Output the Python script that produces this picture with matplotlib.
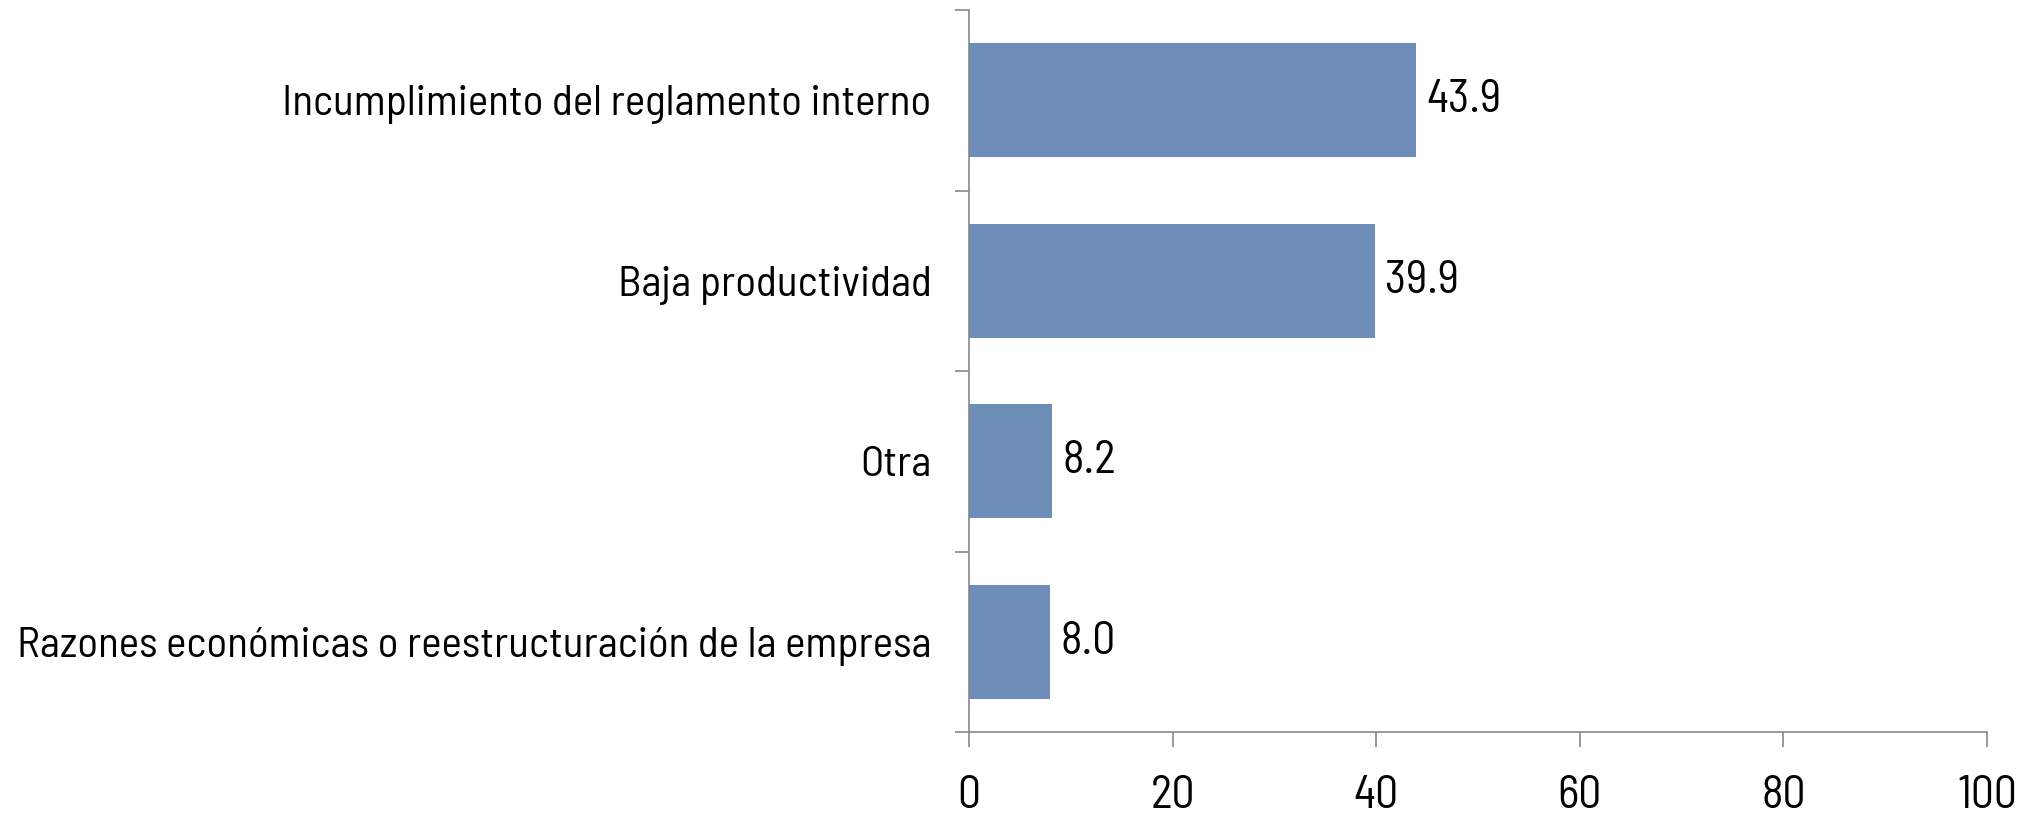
import matplotlib
matplotlib.use("Agg")
import matplotlib.pyplot as plt
from matplotlib.ticker import FixedLocator, NullFormatter
from matplotlib import font_manager

categories = ["Incumplimiento del reglamento interno", "Baja productividad", "Otra",
              "Razones económicas o reestructuración de la empresa"]
values = [43.9, 39.9, 8.2, 8.0]
xticks = [0, 20, 40, 60, 80, 100]

avail = {f.name for f in font_manager.fontManager.ttflist}
candidates = ["Barlow Semi Condensed", "Roboto Condensed", "PT Sans Narrow",
              "Archivo Narrow", "Liberation Sans Narrow", "DejaVu Sans"]
fam = next(c for c in candidates if c in avail or c == "DejaVu Sans")
plt.rcParams['font.family'] = [fam, 'DejaVu Sans']

fig = plt.figure(figsize=(20.34, 8.14), dpi=100)
ax = fig.add_axes([969/2034, 82/814, (1987-969)/2034, (732-10)/814])

# fit label font size to the reference's text width
renderer = fig.canvas.get_renderer()
probe = fig.text(0, 0, categories[-1], fontsize=20)
w = probe.get_window_extent(renderer).width
probe.remove()
label_fs = 20 * 916 / w
probe = fig.text(0, 0, "100", fontsize=20)
w2 = probe.get_window_extent(renderer).width
probe.remove()
num_fs = 20 * 60 / w2

n = len(categories)
ypos = list(range(n))[::-1]
bar_color = "#6F8DB9"
ax.barh(ypos, values, height=0.63, color=bar_color)
for y, v in zip(ypos, values):
    ax.text(v + 1.0, y, f"{v:.1f}", va="center", ha="left", fontsize=num_fs, color="black")

ax.set_xlim(0, 100)
ax.set_ylim(-0.5, n - 0.5)
ax.set_xticks(xticks)
ax.set_xticklabels([str(t) for t in xticks], fontsize=num_fs)
ax.set_yticks(ypos)
ax.set_yticklabels(categories, fontsize=label_fs)
ax.yaxis.set_minor_locator(FixedLocator([i - 0.5 for i in range(n + 1)]))
ax.yaxis.set_minor_formatter(NullFormatter())
ax.tick_params(axis='y', which='major', length=0, pad=27)
ax.tick_params(axis='y', which='minor', length=10, width=1.2, color="#888888", direction='out')
ax.tick_params(axis='x', which='major', length=11, width=1.2, color="#888888", direction='out', pad=20)

for s in ["top", "right"]:
    ax.spines[s].set_visible(False)
for s in ["left", "bottom"]:
    ax.spines[s].set_color("#888888")
    ax.spines[s].set_linewidth(1.2)

fig.savefig("out.png", dpi=100)
